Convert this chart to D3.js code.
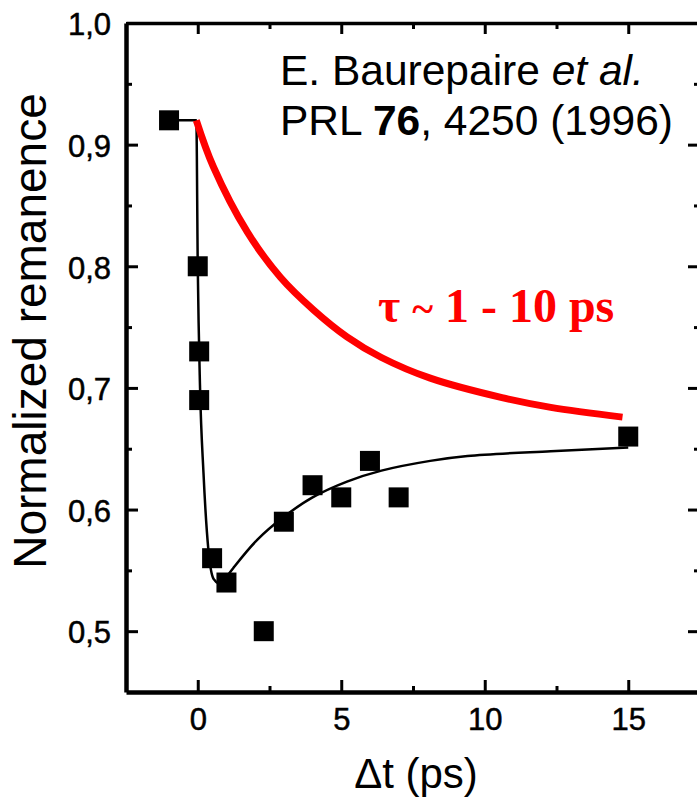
<!DOCTYPE html>
<html>
<head>
<meta charset="utf-8">
<script src="https://cdn.jsdelivr.net/npm/d3@7"></script>
<style>
  body { margin: 0; background: #fff; }
  svg { display: block; font-family: "Liberation Sans", Arial, sans-serif; }
  .tick text { font-family: "Liberation Sans", Arial, sans-serif; font-size: 31px; stroke: #000; stroke-width: 0.5px; }
</style>
</head>
<body>
<div id="chart"></div>
<script>
// Data: measured points
var pointsX     = [-1, 0, 0.05, 0.05, 0.5, 1.0, 2.3, 3, 4, 5, 6, 7, 15];
var pointsY     = [0.92, 0.80, 0.73, 0.69, 0.56, 0.54, 0.50, 0.59, 0.62, 0.61, 0.64, 0.61, 0.66];

// Fit curve (black): fast drop, then recovery
var dropX       = [-1, -0.05, 0.0, 0.08, 0.2, 0.37, 0.55, 0.8];
var dropY       = [0.92, 0.92, 0.80, 0.70, 0.63, 0.567, 0.543, 0.538];
var riseX       = [0.8, 1.24, 2.07, 3.0, 4.0, 5.2, 6.4, 8.1, 9.4, 12.3, 15.0];
var riseY       = [0.538, 0.552, 0.575, 0.594, 0.610, 0.623, 0.632, 0.640, 0.644, 0.648, 0.651];

// Slow relaxation curve (red)
var slowX       = [-0.05, 0.54, 1.73, 2.88, 4.04, 5.2, 6.4, 8.1, 10.6, 12.3, 14.8];
var slowY       = [0.92, 0.882, 0.828, 0.791, 0.764, 0.742, 0.725, 0.708, 0.692, 0.684, 0.676];

// Ticks
var xMajor      = [0, 5, 10, 15];
var xMinor      = [2.5, 7.5, 12.5];
var yMajor      = [0.5, 0.6, 0.7, 0.8, 0.9, 1.0];
var yMinor      = [0.55, 0.65, 0.75, 0.85, 0.95];
var yLabels     = ["0,5", "0,6", "0,7", "0,8", "0,9", "1,0"];

//Width and height
var chart_width     =   697;
var chart_height    =   801;
var plotLeft = 126, plotRight = 700, plotTop = 23, plotBottom = 692;

var x = d3.scaleLinear().domain([-2.5, 17.5]).range([plotLeft, plotRight]);
var y = d3.scaleLinear().domain([0.45, 1.0]).range([plotBottom, plotTop]);

var svg = d3.select("#chart")
    .append("svg")
    .attr("width", chart_width)
    .attr("height", chart_height);

// Axes - ticks point inward
function styleAxis(g, showDomain, w) {
    g.selectAll(".tick line").style("stroke", "#000").style("stroke-width", "3px");
    g.select(".domain").style("stroke", showDomain ? "#000" : "none").style("stroke-width", (w || 4.5) + "px");
    g.selectAll("text").attr("fill", "#000");
}

// left
svg.append("g").attr("transform", "translate(" + plotLeft + ",0)")
    .call(d3.axisLeft(y).tickValues(yMinor).tickSize(-6).tickSizeOuter(0).tickFormat(""))
    .call(g => styleAxis(g, false));
svg.append("g").attr("transform", "translate(" + plotLeft + ",0)")
    .call(d3.axisLeft(y).tickValues(yMajor).tickSize(-12).tickSizeOuter(0).tickPadding(15)
        .tickFormat((d, i) => yLabels[i]))
    .call(g => styleAxis(g, true))
    .selectAll("text").attr("dy", "0.38em");

// right
svg.append("g").attr("transform", "translate(" + plotRight + ",0)")
    .call(d3.axisRight(y).tickValues(yMinor).tickSize(-6).tickSizeOuter(0).tickFormat(""))
    .call(g => styleAxis(g, false));
svg.append("g").attr("transform", "translate(" + plotRight + ",0)")
    .call(d3.axisRight(y).tickValues(yMajor).tickSize(-12).tickSizeOuter(0).tickFormat(""))
    .call(g => styleAxis(g, true));

// top
svg.append("g").attr("transform", "translate(0," + plotTop + ")")
    .call(d3.axisTop(x).tickValues(xMinor).tickSize(-6).tickSizeOuter(0).tickFormat(""))
    .call(g => styleAxis(g, false));
svg.append("g").attr("transform", "translate(0," + plotTop + ")")
    .call(d3.axisTop(x).tickValues(xMajor).tickSize(-11).tickSizeOuter(0).tickFormat(""))
    .call(g => styleAxis(g, true, 3.5));

// bottom
svg.append("g").attr("transform", "translate(0," + plotBottom + ")")
    .call(d3.axisBottom(x).tickValues(xMinor).tickSize(-6).tickSizeOuter(0).tickFormat(""))
    .call(g => styleAxis(g, false));
svg.append("g").attr("transform", "translate(0," + plotBottom + ")")
    .call(d3.axisBottom(x).tickValues(xMajor).tickSize(-12).tickSizeOuter(0).tickPadding(16))
    .call(g => styleAxis(g, true));

// Axis titles
svg.append("text")
    .attr("x", 416).attr("y", 788)
    .attr("text-anchor", "middle")
    .attr("font-size", 42)
    .text("\u0394t (ps)");

svg.append("text")
    .attr("transform", "translate(46,331) rotate(-90)")
    .attr("text-anchor", "middle")
    .attr("font-size", 46)
    .text("Normalized remanence");

// Lines
var lineMono = d3.line()
    .x(d => x(d[0]))
    .y(d => y(d[1]))
    .curve(d3.curveMonotoneX);

var lineSmooth = d3.line()
    .x(d => x(d[0]))
    .y(d => y(d[1]))
    .curve(d3.curveCatmullRom.alpha(0.5));

svg.append("path")
    .datum(dropX.map((v, i) => [v, dropY[i]]))
    .attr("d", lineMono)
    .attr("fill", "none")
    .attr("stroke", "#000")
    .attr("stroke-width", 2.5);

svg.append("path")
    .datum(riseX.map((v, i) => [v, riseY[i]]))
    .attr("d", lineSmooth)
    .attr("fill", "none")
    .attr("stroke", "#000")
    .attr("stroke-width", 2.5);

svg.append("path")
    .datum(slowX.map((v, i) => [v, slowY[i]]))
    .attr("d", lineSmooth)
    .attr("fill", "none")
    .attr("stroke", "#ff0000")
    .attr("stroke-width", 7);

// Squares
svg.selectAll("rect.pt")
    .data(pointsX.map((v, i) => [v, pointsY[i]]))
    .enter()
    .append("rect")
    .attr("class", "pt")
    .attr("x", d => x(d[0]) - 10)
    .attr("y", d => y(d[1]) - 10)
    .attr("width", 20)
    .attr("height", 20)
    .attr("fill", "#000");

// Reference note
var note = svg.append("g").attr("font-size", 42.5).attr("fill", "#000");
var l1 = note.append("text").attr("x", 280).attr("y", 85);
l1.append("tspan").text("E. Baurepaire ");
l1.append("tspan").attr("font-style", "italic").text("et al.");
var l2 = note.append("text").attr("x", 280).attr("y", 135);
l2.append("tspan").text("PRL ");
l2.append("tspan").attr("font-weight", "bold").text("76");
l2.append("tspan").text(", 4250 (1996)");

// Tau label
var tau = svg.append("text")
    .attr("x", 378).attr("y", 322)
    .attr("fill", "#ff0000")
    .attr("font-family", "'Liberation Serif', 'Times New Roman', serif")
    .attr("font-weight", "bold")
    .attr("font-size", 48);
tau.append("tspan").text("\u03c4 ");
tau.append("tspan").attr("font-size", 40).text("~");
tau.append("tspan").text(" 1 - 10 ps");
</script>
</body>
</html>
